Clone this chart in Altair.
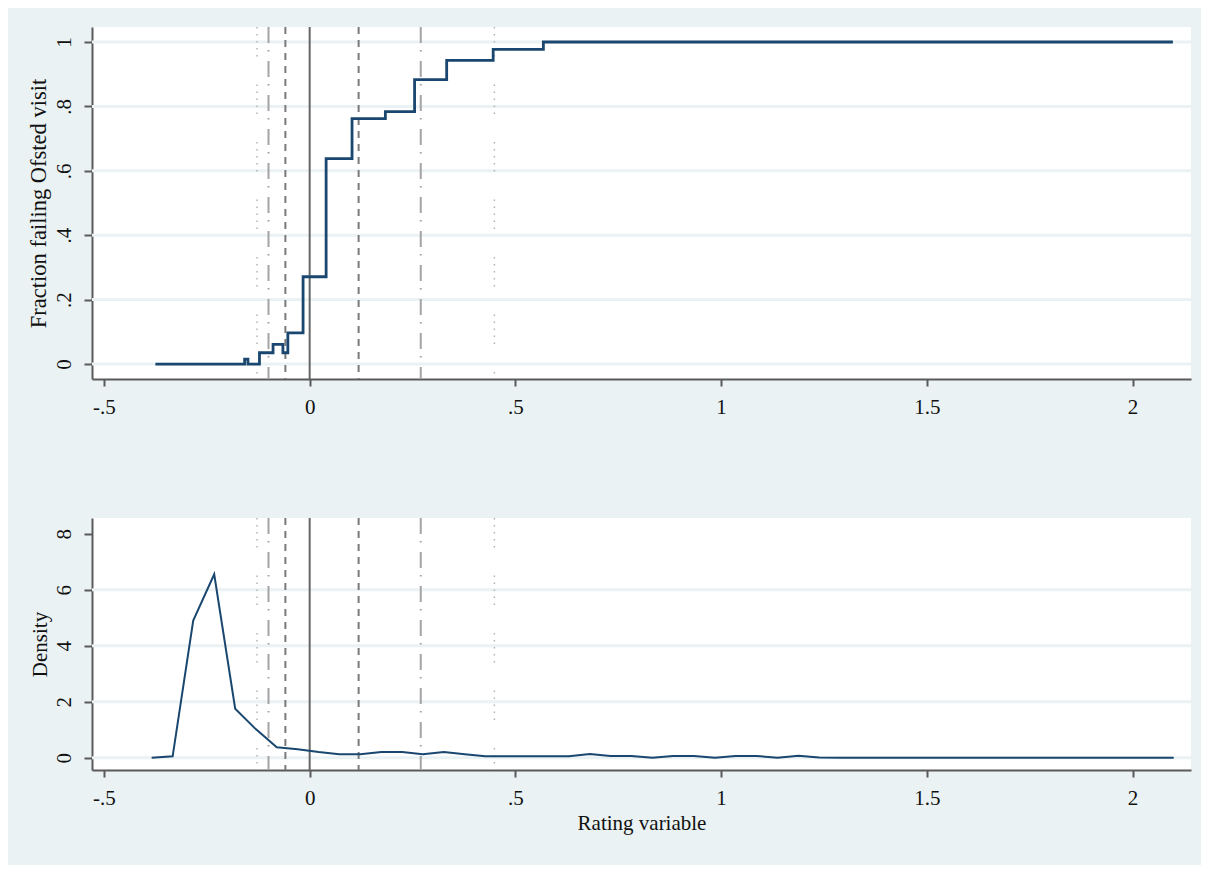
import altair as alt
import pandas as pd

# ---------------- data ----------------
# Step function: fraction failing Ofsted visit (step-after)
step_x = [-0.375, -0.158, -0.150, -0.122, -0.089, -0.065, -0.053, -0.016,
          0.040, 0.103, 0.184, 0.255, 0.333, 0.446, 0.568, 2.098]
step_y = [0.0, 0.015, 0.0, 0.035, 0.061, 0.035, 0.097, 0.271,
          0.638, 0.762, 0.784, 0.883, 0.943, 0.977, 1.0, 1.0]

# Kernel density of the rating variable
dens_x = [-0.384, -0.333, -0.283, -0.232, -0.181, -0.131, -0.080, -0.029,
          0.022, 0.072, 0.123, 0.174, 0.225, 0.275, 0.326, 0.377,
          0.427, 0.478, 0.529, 0.579, 0.630, 0.681, 0.731, 0.782,
          0.833, 0.883, 0.934, 0.985, 1.035, 1.086, 1.137, 1.188,
          1.238, 1.289, 1.340, 1.391, 1.441, 1.492, 1.543, 1.593,
          1.644, 1.695, 1.745, 1.796, 1.847, 1.898, 1.948, 1.999,
          2.050, 2.100]
dens_y = [0.0, 0.05, 4.9, 6.55, 1.75, 1.02, 0.37, 0.30,
          0.20, 0.12, 0.12, 0.20, 0.20, 0.12, 0.20, 0.12,
          0.05, 0.05, 0.05, 0.05, 0.05, 0.13, 0.06, 0.06,
          0.0, 0.06, 0.06, 0.0, 0.06, 0.06, 0.0, 0.07,
          0.01, 0.0, 0.0, 0.0, 0.0, 0.0, 0.0, 0.0,
          0.0, 0.0, 0.0, 0.0, 0.0, 0.0, 0.0, 0.0,
          0.0, 0.0]

# Vertical reference lines
solid_x = [0.0]
short_dash_x = [-0.059, 0.119]
long_dash_x = [-0.100, 0.270]
dotted_x = [-0.128, 0.449]

# Ticks and labels
x_ticks = [-0.5, 0, 0.5, 1, 1.5, 2]
x_labels = ["-.5", "0", ".5", "1", "1.5", "2"]
top_y_ticks = [0, 0.2, 0.4, 0.6, 0.8, 1]
top_y_labels = ["0", ".2", ".4", ".6", ".8", "1"]
bot_y_ticks = [0, 2, 4, 6, 8]
bot_y_labels = ["0", "2", "4", "6", "8"]
top_grid = [0, 0.2, 0.4, 0.6, 0.8, 1]
bot_grid = [0, 2, 4, 6]

top_y_title = "Fraction failing Ofsted visit"
bot_y_title = "Density"
x_title = "Rating variable"

# ---------------- styling ----------------
FONT = "Liberation Serif"
BG = "#EAF2F3"
NAVY = "#1A476F"
W = 1099
H_TOP = 352
H_BOT = 252


def label_expr(vals, labs):
    expr = "''"
    for v, l in reversed(list(zip(vals, labs))):
        expr = f"datum.value == {v} ? '{l}' : ({expr})"
    return expr


x_scale = alt.Scale(domain=[-0.529, 2.142], nice=False, zero=False)
top_y_scale = alt.Scale(domain=[-0.0465, 1.0465], nice=False, zero=False)
bot_y_scale = alt.Scale(domain=[-0.44, 8.56], nice=False, zero=False)


def x_axis(title=None):
    kw = dict(values=x_ticks, labelExpr=label_expr(x_ticks, x_labels),
              grid=False, tickSize=7, labelPadding=10,
              minExtent=38, maxExtent=38, labelFlush=False)
    if title:
        kw.update(title=title, titlePadding=4)
    else:
        kw.update(title=None)
    return alt.Axis(**kw)


def y_axis(vals, labs, title, title_size):
    return alt.Axis(values=vals, labelExpr=label_expr(vals, labs), title=title,
                    grid=False, tickSize=8, labelPadding=10, labelAngle=270,
                    labelAlign="center", labelBaseline="bottom",
                    minExtent=38, maxExtent=38, titlePadding=4, labelFlush=False,
                    titleFontSize=title_size)


dotted_dash = [1.5, 5.5, 1.5, 5.5, 1.5, 5.5, 1.5, 5.5, 1.5, 28]


def panel(line_df, line_mark, yscale, yaxis, xaxis, grid_vals, h):
    def vlines(xs, color, dash, width=2):
        kw = dict(color=color, strokeWidth=width)
        if dash:
            kw["strokeDash"] = dash
        return alt.Chart(pd.DataFrame({"x": xs})).mark_rule(**kw).encode(
            x=alt.X("x:Q", scale=x_scale, axis=xaxis))

    grid = alt.Chart(pd.DataFrame({"y": grid_vals})).mark_rule(
        color=BG, strokeWidth=3).encode(y=alt.Y("y:Q", scale=yscale, axis=yaxis))

    line = alt.Chart(line_df).mark_line(**line_mark).encode(
        x=alt.X("x:Q", scale=x_scale, axis=xaxis),
        y=alt.Y("y:Q", scale=yscale, axis=yaxis),
    )
    layers = [
        grid,
        vlines(dotted_x, "#B4B4B4", dotted_dash, 1.5),
        vlines(long_dash_x, "#A4A4A4", [16, 7, 1.5, 9.5], 2),
        vlines(short_dash_x, "#7A7A7A", [7, 6], 2),
        vlines(solid_x, "#666666", None, 2),
        line,
    ]
    return alt.layer(*layers).properties(width=W, height=h)


top = panel(pd.DataFrame({"x": step_x, "y": step_y}),
            dict(color=NAVY, strokeWidth=2.8, interpolate="step-after"),
            top_y_scale, y_axis(top_y_ticks, top_y_labels, top_y_title, 22.5),
            x_axis(), top_grid, H_TOP)

bottom = panel(pd.DataFrame({"x": dens_x, "y": dens_y}),
               dict(color=NAVY, strokeWidth=2),
               bot_y_scale, y_axis(bot_y_ticks, bot_y_labels, bot_y_title, 21),
               x_axis(x_title), bot_grid, H_BOT)

chart = alt.vconcat(top, bottom, spacing=100).properties(
    padding={"left": 19, "top": 18, "right": 8, "bottom": 32}
).configure(
    background=BG, font=FONT
).configure_view(
    fill="white", stroke=None
).configure_axis(
    domainColor="#5A5A5A", domainWidth=2, tickColor="#5A5A5A", tickWidth=2,
    labelFont=FONT, labelFontSize=21, labelColor="#111111",
    titleFont=FONT, titleFontSize=21, titleFontWeight="normal", titleColor="#111111",
)

chart.save("out.html", embed_options={"renderer": "svg", "actions": False})
